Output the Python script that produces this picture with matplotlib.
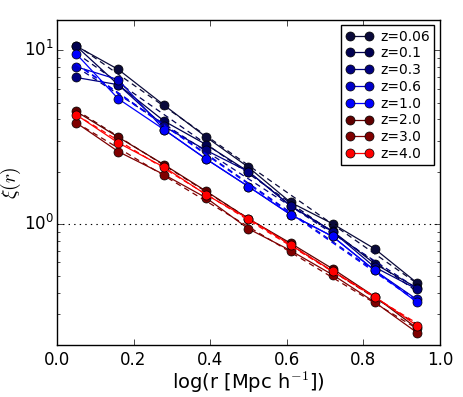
import numpy as np
import matplotlib
matplotlib.use('Agg')
import matplotlib.pyplot as plt

plt.style.use('classic')

# log(r) bins
logr = [0.05, 0.16, 0.28, 0.39, 0.50, 0.61, 0.72, 0.83, 0.94]

# xi(r) per redshift
xi_z006 = [10.6, 7.77, 4.83, 3.16, 2.12, 1.33, 1.00, 0.717, 0.457]
xi_z01 = [10.6, 6.34, 3.91, 2.86, 2.00, 1.27, 0.906, 0.588, 0.427]
xi_z03 = [6.98, 6.34, 3.64, 2.65, 2.00, 1.27, 0.90, 0.562, 0.42]
xi_z06 = [8.05, 6.78, 3.49, 2.36, 1.64, 1.13, 0.845, 0.538, 0.366]
xi_z10 = [9.57, 5.26, 3.49, 2.36, 1.64, 1.13, 0.845, 0.538, 0.353]
xi_z20 = [4.45, 3.16, 2.19, 1.54, 1.07, 0.773, 0.55, 0.38, 0.25]
xi_z30 = [3.83, 2.61, 1.92, 1.41, 0.936, 0.701, 0.508, 0.353, 0.236]
xi_z40 = [4.26, 2.93, 2.12, 1.47, 1.07, 0.756, 0.533, 0.38, 0.259]

labels = ['z=0.06', 'z=0.1', 'z=0.3', 'z=0.6', 'z=1.0', 'z=2.0', 'z=3.0', 'z=4.0']
colors = ['#0a0a3a', '#000050', '#000080', '#0000c8', '#0000ff',
          '#600000', '#800000', '#ff0000']
series = [xi_z006, xi_z01, xi_z03, xi_z06, xi_z10, xi_z20, xi_z30, xi_z40]

fig = plt.figure(figsize=(4.63, 3.97), dpi=100, facecolor='white')
ax = fig.add_axes([0.123, 0.131, 0.827, 0.819])

x = np.array(logr)
for xi, c, lab in zip(series, colors, labels):
    ax.plot(x, xi, '-o', color=c, mfc=c, mec='black', ms=6.5, lw=0.9, label=lab)
    # power-law fit (straight in these axes)
    p = np.polyfit(x, np.log10(xi), 1)
    ax.plot(x, 10 ** np.polyval(p, x), '--', color=c, lw=0.9, dashes=(4, 3))

ax.axhline(1.0, color='black', ls=':', lw=0.8)

ax.set_yscale('log')
ax.set_xlim(0, 1)
ax.set_ylim(0.2, 15)
ax.set_xticks([0.0, 0.2, 0.4, 0.6, 0.8, 1.0])
ax.tick_params(labelsize=12)
ax.tick_params(axis='y', pad=2)
ax.set_xlabel(r'log(r [Mpc h$^{-1}$])', fontsize=14, labelpad=1)
ax.set_ylabel(r'$\xi(r)$', fontsize=14, labelpad=1)

leg = ax.legend(loc='upper right', fontsize=10, numpoints=2, handlelength=2.0,
                borderpad=0.3, labelspacing=0.2, handletextpad=0.5,
                borderaxespad=0.4)
leg.get_frame().set_edgecolor('black')

fig.savefig('out.png', dpi=100, facecolor='white')
